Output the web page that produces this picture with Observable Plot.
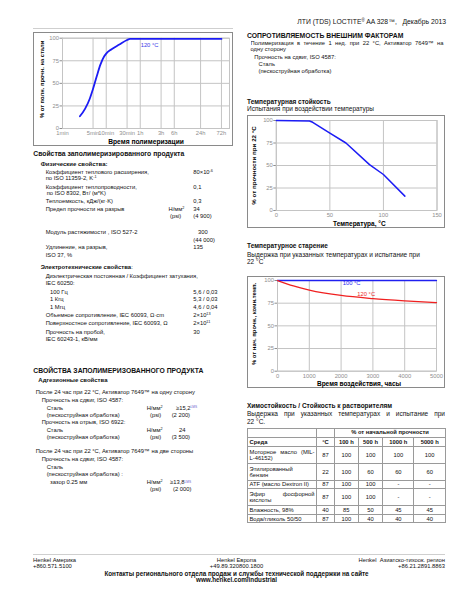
<!DOCTYPE html>
<html><head><meta charset="utf-8">
<script src="https://cdn.jsdelivr.net/npm/d3@7"></script>
<script src="https://cdn.jsdelivr.net/npm/@observablehq/plot@0.6"></script>
<style>
body{margin:0;background:#fff;}
#page{position:relative;width:464px;height:600px;overflow:hidden;background:#fff;font-family:"Liberation Sans",Arial,sans-serif;color:#111;}
.t{position:absolute;white-space:nowrap;line-height:1;}
.b{font-weight:bold;}
.j{text-align:justify;text-align-last:justify;white-space:normal;}
.box{position:absolute;border:1px solid #8a8a8a;box-sizing:border-box;}
.svg{position:absolute;}
.hr{position:absolute;height:1px;background:#cfcfcf;}
sup{font-size:65%;vertical-align:0;position:relative;top:-0.45em;}
.lms{color:#6a5acd;font-size:55%;}
table.chem{position:absolute;border-collapse:collapse;font-family:"Liberation Sans",Arial,sans-serif;font-size:5.8px;line-height:1.05;color:#111;table-layout:fixed;}
table.chem td{border:1px solid #9a9a9a;padding:0 1.5px;text-align:center;vertical-align:middle;}
table.chem td.l{text-align:left;}
</style></head>
<body><div id="page"></div>
<script>
const FONT = '"Liberation Sans", Arial, sans-serif';

// ---------- Chart 1: cure speed ----------
const cureTime = [2.5, 3.3, 4.2, 5, 6, 7.4, 9, 10, 13, 20, 30, 35, 4320];   // minutes
const cureStrength = [13.5, 22, 33, 44, 57, 71, 80, 83, 87.5, 93, 98, 99.2, 99.2];
const cureTicks = [1, 5, 10, 30, 60, 180, 360, 1440, 4320];
const cureTickLabels = ["1min", "5min", "10min", "30min", "1h", "3h", "6h", "24h", "72h"];
const cureLabel = [{text: "120 °C", time: 98, pct: 92.5}];

// ---------- Chart 2: hot strength ----------
const tempC = [0, 31, 34, 50, 65, 87, 100, 120];
const tempStrength = [100, 99.5, 98, 86, 75, 51, 40, 16];
const tempTicks = [0, 50, 100, 150];

// ---------- Chart 3: heat aging ----------
const agingHours = [0, 500, 1000, 2000, 3000, 4000, 5000];
const aging100 = [100, 100, 100, 100, 100, 100, 100];
const aging120 = [100, 94, 89.5, 83.5, 80, 77.5, 75.5];
const agingTicks = [0, 1000, 2000, 3000, 4000, 5000];
const agingLabels = [{text: "100 °C", h: 2330, pct: 96.6, c: "#2a2aee"}, {text: "120 °C", h: 2790, pct: 85.5, c: "#ee2a2a"}];

const pctTicks = [0, 25, 50, 75, 100];

// ---------- Chemical resistance table ----------
const chemMedia = ["Моторное масло (MIL-|L-46152)", "Этилированный|бензин", "ATF (масло Dextron II)", "Эфир фосфорной|кислоты", "Влажность, 98%", "Вода/гликоль 50/50"];
const chemTemp = [87, 22, 87, 87, 40, 87];
const chem100 = ["100", "100", "100", "100", "85", "100"];
const chem500 = ["100", "60", "100", "100", "50", "40"];
const chem1000 = ["100", "60", "-", "-", "45", "40"];
const chem5000 = ["100", "60", "-", "-", "45", "40"];
const chemHours = ["100 h", "500 h", "1000 h", "5000 h"];

const GRID = "#c4c4c4", TICK = "#8e8e8e";

function chart(o) {
  const svg = Plot.plot({
    width: o.w, height: o.h,
    marginLeft: o.ml, marginRight: o.mr, marginTop: o.mt, marginBottom: o.mb,
    x: {...o.x, axis: null}, y: {domain: [0, 100], axis: null},
    style: {fontFamily: FONT, fontSize: "5.8px", background: "transparent", overflow: "visible", color: "#000"},
    marks: [
      Plot.ruleX(o.xTicks, {x: d => d, stroke: GRID}),
      Plot.ruleY(pctTicks, {y: d => d, stroke: GRID}),
      Plot.frame({stroke: GRID}),
      Plot.text(o.xTicks, {x: d => d, text: (d, i) => o.fmt(d, i), frameAnchor: "bottom", lineAnchor: "top", dy: 2.5, fill: TICK, fontSize: 5.8}),
      Plot.axisY(pctTicks, {tickSize: 2.5, tickPadding: 1, stroke: TICK, fill: TICK, label: null, fontSize: 5.8}),
      ...o.marks,
      Plot.text([o.xTitle], {frameAnchor: "bottom", textAnchor: "middle", lineAnchor: "middle", dx: o.xdx || 0, dy: o.xdy, fontWeight: "bold", fontSize: o.xfs, fill: "#000"}),
      Plot.text([o.yTitle], {frameAnchor: "left", textAnchor: "middle", lineAnchor: "middle", dx: o.ydx, dy: o.ydy || 0, rotate: -90, fontWeight: "bold", fontSize: o.yfs, fill: "#000"})
    ]
  });
  svg.setAttribute("class", "svg");
  svg.style.left = o.left + "px"; svg.style.top = o.top + "px";
  return svg;
}

const cureData = cureTime.map((t, i) => ({t, s: cureStrength[i]}));
const tempData = tempC.map((t, i) => ({t, s: tempStrength[i]}));
const agingData = [
  ...agingHours.map((h, i) => ({h, s: aging100[i], k: "100"})),
  ...agingHours.map((h, i) => ({h, s: aging120[i], k: "120"}))
];

const c1 = chart({
  left: 33, top: 32, w: 200, h: 114, ml: 29, mr: 4, mt: 5.7, mb: 18,
  x: {type: "log", domain: [1, 6600]}, xTicks: cureTicks, fmt: (d, i) => cureTickLabels[i],
  marks: [
    Plot.line(cureData, {x: "t", y: "s", stroke: "#1c1cf5", strokeWidth: 1.8, curve: "monotone-x"}),
    Plot.text(cureLabel, {x: "time", y: "pct", text: "text", fill: "#3a3ae8", fontSize: 5.8})
  ],
  xTitle: "Время полимеризации", xdy: 13.3, xfs: 6.7,
  yTitle: "% от полн. прочн. на стали", ydx: -20.3, ydy: -4, yfs: 5.8
});

const c2 = chart({
  left: 247, top: 115, w: 198, h: 113, ml: 28.8, mr: 8.5, mt: 5, mb: 18,
  x: {domain: [0, 150]}, xTicks: tempTicks, fmt: d => String(d),
  marks: [
    Plot.line(tempData, {x: "t", y: "s", stroke: "#1c1cf5", strokeWidth: 1.5})
  ],
  xTitle: "Температура, °C", xdx: 2.7, xdy: 13.4, xfs: 6.5,
  yTitle: "% от прочности при 22 °C", ydx: -22, yfs: 6.2
});

const c3 = chart({
  left: 247, top: 276, w: 198, h: 112, ml: 30, mr: 9, mt: 4, mb: 17.3,
  x: {domain: [0, 5000]}, xTicks: agingTicks, fmt: d => String(d),
  marks: [
    Plot.line(agingData, {x: "h", y: "s", z: "k", stroke: d => d.k === "100" ? "#2020f0" : "#f02020", strokeWidth: 1.3, curve: "monotone-x"}),
    Plot.text(agingLabels, {x: "h", y: "pct", text: "text", fill: "c", fontSize: 5.8})
  ],
  xTitle: "Время воздействия, часы", xdx: 2, xdy: 12.8, xfs: 6.5,
  yTitle: "% от нач. прочн., комн.темп.", ydx: -23.3, ydy: -2, yfs: 5.9
});

// ---------- page text ----------
const B = 5.8;
function T(x, y, s, html, cls = "", extra = "") {
  return `<div class="t ${cls}" style="left:${x}px;top:${(y - 0.55 * s).toFixed(2)}px;font-size:${s}px;${extra}">${html}</div>`;
}
function R(xr, y, s, html, cls = "") {
  return `<div class="t ${cls}" style="right:${464 - xr}px;top:${(y - 0.55 * s).toFixed(2)}px;font-size:${s}px;text-align:right;">${html}</div>`;
}
function C(xc, y, s, html, cls = "") {
  return `<div class="t ${cls}" style="left:${xc - 200}px;width:400px;top:${(y - 0.55 * s).toFixed(2)}px;font-size:${s}px;text-align:center;">${html}</div>`;
}
function J(x, y, s, w, html, cls = "") {
  return `<div class="t j ${cls}" style="left:${x}px;width:${w}px;top:${(y - 0.55 * s).toFixed(2)}px;font-size:${s}px;height:${s}px;overflow:hidden;">${html}</div>`;
}

let h = "";
h += R(446, 23, 6.8, "ЛТИ (TDS) LOCTITE<sup>®</sup> AA 328™,&nbsp;&nbsp; Декабрь 2013");
h += `<div class="hr" style="left:33px;top:28px;width:200px;"></div>`;
h += `<div class="box" style="left:33px;top:32px;width:200px;height:114px;"></div>`;
h += `<div class="box" style="left:247px;top:115px;width:198px;height:113px;"></div>`;
h += `<div class="box" style="left:247px;top:276px;width:198px;height:112px;"></div>`;

// left column
h += T(33.3, 155, 6.8, "Свойства заполимеризированного продукта", "b");
h += T(40.7, 164, 6, "Физические свойства:", "b");
const V = 193.3;
h += T(45.7, 172.7, B, "Коэффициент теплового расширения,") + T(V, 172.7, B, "80×10<sup>-6</sup>");
h += T(45.7, 179.3, B, "по ISO 11359-2, K<sup>-1</sup>");
h += T(45.7, 187.7, B, "Коэффициент теплопроводности,") + T(V, 187.7, B, "0,1");
h += T(46.7, 194.3, B, "по ISO 8302, Вт/ (м*K)");
h += T(45.7, 202, B, "Теплоемкость, кДж/(кг·K)") + T(V, 202, B, "0,3");
h += T(45.7, 210, B, "Предел прочности на разрыв") + T(168.5, 210, B, "Н/мм<sup>2</sup>") + T(V, 210, B, "34");
h += T(170, 217.5, B, "(psi)") + T(V, 217.5, B, "(4 900)");
h += T(45.7, 233.3, B, "Модуль растяжимости , ISO 527-2") + T(198, 233.3, B, "300");
h += T(V, 241, B, "(44 000)");
h += T(45.7, 248.5, B, "Удлинение, на разрыв,") + T(V, 248.5, B, "135");
h += T(45.7, 256.5, B, "ISO 37, %");
h += T(40.7, 267.3, 6, "<b>Электротехнические свойства</b>:");
h += T(45.7, 276.7, B, "Диэлектрическая постоянная / Коэффициент затухания,");
h += T(45.7, 284.3, B, "IEC 60250:");
h += T(50, 292.7, B, "100 Гц") + T(V, 292.7, B, "5,6 / 0,03");
h += T(50, 300.5, B, "1 Кгц") + T(V, 300.5, B, "5,3 / 0,03");
h += T(50, 308.3, B, "1 Мгц") + T(V, 308.3, B, "4,6 / 0,04");
h += T(45.7, 316, B, "Объемное сопротивление, IEC 60093, Ω·cm") + T(V, 316, B, "2×10<sup>13</sup>");
h += T(45.7, 324, B, "Поверхностное сопротивление, IEC 60093, Ω") + T(V, 324, B, "2×10<sup>11</sup>");
h += T(45.7, 333.5, B, "Прочность на пробой,") + T(V, 333.5, B, "30");
h += T(45.7, 340.5, B, "IEC 60243-1, кВ/мм");

h += T(33.3, 371.7, 6.8, "СВОЙСТВА ЗАПОЛИМЕРИЗОВАННОГО ПРОДУКТА", "b");
h += T(38.3, 380.7, 6, "Адгезионные свойства", "b");
h += T(35.7, 393.3, B, "После 24 час при 22 °C, Активатор 7649™ на одну сторону");
h += T(41.7, 401, B, "Прочность на сдвиг, ISO 4587:");
h += T(46.7, 409, B, "Сталь") + T(146.7, 409, B, "Н/мм<sup>2</sup>") + T(176, 409, B, "≥15,2<sup class='lms'>LMS</sup>");
h += T(46.7, 416.3, B, "(пескоструйная обработка)") + T(150, 416.3, B, "(psi)") + T(171.7, 416.3, B, "(2 200)");
h += T(41.7, 423.5, B, "Прочность на отрыв, ISO 6922:");
h += T(46.7, 431, B, "Сталь") + T(146.7, 431, B, "Н/мм<sup>2</sup>") + T(179, 431, B, "24");
h += T(46.7, 438.3, B, "(пескоструйная обработка)") + T(150, 438.3, B, "(psi)") + T(171.7, 438.3, B, "(3 500)");
h += T(35.7, 452.5, B, "После 24 час при 22 °C, Активатор 7649™ на две стороны");
h += T(41.7, 460.5, B, "Прочность на сдвиг, ISO 4587:");
h += T(46.7, 468.3, B, "Сталь");
h += T(46.7, 475.5, B, "(пескоструйная обработка) :");
h += T(50, 483.3, B, "зазор 0.25 мм") + T(146.7, 483.3, B, "Н/мм<sup>2</sup>") + T(170, 483.3, B, "≥13,8<sup class='lms'>LMS</sup>");
h += T(150, 490.5, B, "(psi)") + T(173, 490.5, B, "(2 000)");

// right column
h += T(247, 37, 6.8, "СОПРОТИВЛЯЕМОСТЬ ВНЕШНИМ ФАКТОРАМ", "b");
h += J(250.5, 44.5, B, 193, "Полимеризация в течение 1 нед. при 22 °C, Активатор 7649™ на");
h += T(250.5, 50.5, B, "одну сторону");
h += T(254.3, 57.8, B, "Прочность на сдвиг, ISO 4587:");
h += T(258.5, 65, B, "Сталь");
h += T(258.5, 71.7, B, "(пескоструйная обработка)");

h += T(247, 103, 6.5, "Температурная стойкость", "b");
h += T(247, 109.8, 6.5, "Испытания при воздействии температуры");
h += T(247, 247, 6.5, "Температурное старение", "b");
h += T(247, 256, 6.5, "Выдержка при указанных температурах и испытание при");
h += T(247, 263, 6.5, "22 °C");
h += T(247, 406.7, 6.5, "Химостойкость / Стойкость к растворителям", "b");
h += J(247, 415, 6.5, 198, "Выдержка при указанных температурах и испытание при");
h += T(247, 422.5, 6.5, "22 °C.");

// table
const colW = [69, 18, 23.7, 24.7, 31, 31.6];
const rowH = [9, 9.3, 17.3, 16.7, 8.3, 16.7, 9, 8.7];
let tb = `<table class="chem" style="left:247px;top:427.5px;width:${colW.reduce((a, b) => a + b)}px;"><colgroup>${colW.map(w => `<col style="width:${w}px">`).join("")}</colgroup>`;
tb += `<tr style="height:${rowH[0]}px"><td></td><td></td><td colspan="4" class="b">% от начальной прочности</td></tr>`;
tb += `<tr style="height:${rowH[1]}px"><td class="l b">Среда</td><td class="b">°C</td>${chemHours.map(x => `<td class="b">${x}</td>`).join("")}</tr>`;
chemMedia.forEach((m, i) => {
  const parts = m.split("|");
  const cell = parts.length > 1
    ? `<span style="display:block;text-align:justify;text-align-last:justify;">${parts[0]}</span><span style="display:block;">${parts[1]}</span>`
    : parts[0];
  tb += `<tr style="height:${rowH[i + 2]}px"><td class="l">${cell}</td><td>${chemTemp[i]}</td><td>${chem100[i]}</td><td>${chem500[i]}</td><td>${chem1000[i]}</td><td>${chem5000[i]}</td></tr>`;
});
tb += `</table>`;
h += tb;

// footer
h += `<div class="hr" style="left:33px;top:553.5px;width:412px;"></div>`;
h += T(33, 561.5, B, "Henkel Америка") + T(33, 567.2, B, "+860.571.5100");
h += C(236.5, 561.5, B, "Henkel Европа") + C(236.5, 567.2, B, "+49.89.320800.1800");
h += R(445, 561.5, B, "Henkel&nbsp; Азиатско-тихоок. регион") + R(445, 567.2, B, "+86.21.2891.8863");
h += C(236.5, 574.3, 6.3, "Контакты регионального отдела продаж и службы технической поддержки на сайте", "b");
h += C(236.5, 580.7, 6.3, "www.henkel.com/industrial", "b");

const page = document.getElementById("page");
page.innerHTML = h;
page.appendChild(c1); page.appendChild(c2); page.appendChild(c3);
</script>
</body></html>
